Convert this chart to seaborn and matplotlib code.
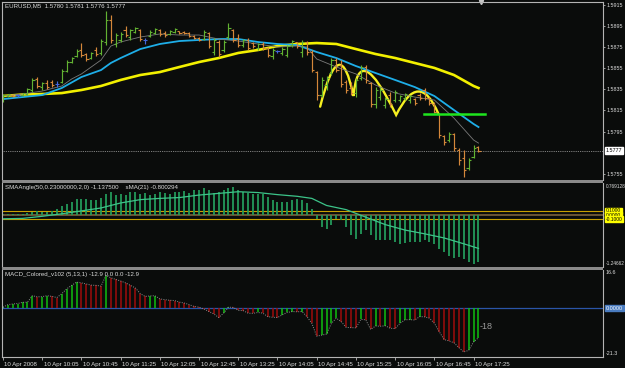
import matplotlib
matplotlib.use("Agg")
import matplotlib.pyplot as plt
import matplotlib.transforms as mtrans
from matplotlib.path import Path
from matplotlib.patches import PathPatch, Rectangle
import numpy as np
import pandas as pd
import seaborn as sns

plt.rcParams['font.family'] = ['Liberation Sans', 'DejaVu Sans']

# ---------------- data ----------------
symbol_title = "EURUSD,M5  1.5780 1.5781 1.5776 1.5777"
sma_title = "SMAAngle(50,0.23000000,2,0) -1.137500    sMA(21) -0.800294"
macd_title = "MACD_Colored_v102 (5,13,1) -12.9 0.0 0.0 -12.9"

open_ = [1.58249,1.58287,1.58296,1.58296,1.58296,1.58306,1.58344,1.58448,1.58372,1.58410,
         1.58420,1.58401,1.58420,1.58524,1.58609,1.58666,1.58723,1.58685,1.58647,1.58723,
         1.58695,1.58799,1.59007,1.58780,1.58818,1.58913,1.58846,1.58894,1.58913,1.58818,
         1.58856,1.58884,1.58913,1.58884,1.58875,1.58894,1.58903,1.58894,1.58884,1.58856,
         1.58837,1.58827,1.58884,1.58704,1.58799,1.58723,1.58846,1.58913,1.58837,1.58770,
         1.58818,1.58789,1.58742,1.58780,1.58742,1.58666,1.58714,1.58695,1.58676,1.58770,
         1.58799,1.58704,1.58799,1.58704,1.58514,1.58296,1.58391,1.58505,1.58628,1.58581,
         1.58420,1.58363,1.58315,1.58458,1.58562,1.58410,1.58211,1.58277,1.58202,1.58296,
         1.58249,1.58249,1.58268,1.58249,1.58258,1.58296,1.58344,1.58268,1.58211,1.58116,
         1.57908,1.57870,1.57927,1.57775,1.57699,1.57604,1.57708,1.5780]
high = [1.58306,1.58306,1.58296,1.58306,1.58315,1.58363,1.58458,1.58467,1.58420,1.58439,
        1.58439,1.58429,1.58543,1.58628,1.58657,1.58732,1.58789,1.58695,1.58704,1.58751,
        1.58827,1.59093,1.59055,1.58884,1.58894,1.58951,1.58922,1.58941,1.58922,1.58837,
        1.58913,1.58932,1.58922,1.58903,1.58913,1.58932,1.58903,1.58903,1.58894,1.58865,
        1.58846,1.58913,1.58894,1.58837,1.58818,1.58818,1.58979,1.58922,1.58875,1.58827,
        1.58837,1.58799,1.58789,1.58799,1.58751,1.58742,1.58723,1.58751,1.58770,1.58818,
        1.58799,1.58818,1.58808,1.58723,1.58524,1.58467,1.58477,1.58647,1.58647,1.58628,
        1.58439,1.58420,1.58458,1.58581,1.58581,1.58420,1.58372,1.58372,1.58277,1.58325,
        1.58344,1.58296,1.58315,1.58296,1.58268,1.58315,1.58363,1.58277,1.58230,1.58126,
        1.57917,1.57946,1.57936,1.57794,1.57775,1.57699,1.57822,1.5781]
low = [1.58230,1.58277,1.58277,1.58277,1.58287,1.58296,1.58325,1.58363,1.58344,1.58353,
       1.58372,1.58372,1.58410,1.58514,1.58600,1.58657,1.58657,1.58619,1.58638,1.58666,
       1.58676,1.58770,1.58789,1.58751,1.58799,1.58846,1.58818,1.58884,1.58808,1.58780,
       1.58846,1.58875,1.58856,1.58846,1.58865,1.58884,1.58875,1.58875,1.58846,1.58827,
       1.58808,1.58818,1.58742,1.58676,1.58657,1.58704,1.58827,1.58799,1.58751,1.58751,
       1.58723,1.58742,1.58723,1.58723,1.58657,1.58638,1.58695,1.58676,1.58657,1.58751,
       1.58742,1.58657,1.58676,1.58514,1.58249,1.58277,1.58344,1.58486,1.58514,1.58372,
       1.58315,1.58296,1.58277,1.58439,1.58410,1.58183,1.58173,1.58249,1.58173,1.58183,
       1.58230,1.58230,1.58249,1.58221,1.58202,1.58249,1.58249,1.58202,1.58126,1.57889,
       1.57822,1.57851,1.57765,1.57633,1.57519,1.57585,1.57699,1.5776]
close = [1.58296,1.58306,1.58287,1.58296,1.58315,1.58353,1.58439,1.58382,1.58410,1.58372,
         1.58391,1.58401,1.58524,1.58609,1.58647,1.58714,1.58676,1.58638,1.58695,1.58685,
         1.58808,1.59007,1.58818,1.58865,1.58875,1.58865,1.58913,1.58932,1.58827,1.58818,
         1.58894,1.58922,1.58875,1.58865,1.58903,1.58922,1.58884,1.58884,1.58856,1.58837,
         1.58818,1.58894,1.58761,1.58818,1.58685,1.58799,1.58932,1.58818,1.58770,1.58818,
         1.58742,1.58761,1.58780,1.58742,1.58676,1.58723,1.58714,1.58732,1.58761,1.58808,
         1.58761,1.58799,1.58704,1.58533,1.58296,1.58439,1.58458,1.58628,1.58533,1.58401,
         1.58344,1.58315,1.58439,1.58562,1.58439,1.58211,1.58344,1.58344,1.58258,1.58211,
         1.58325,1.58287,1.58306,1.58287,1.58221,1.58268,1.58268,1.58221,1.58135,1.57917,
         1.57851,1.57927,1.57794,1.57680,1.57585,1.57680,1.57794,1.5777]

# moving averages (read at sampled bars)
ma_fast_bar = [0,4,8,12,14,16,18,20,22,24,28,32,36,40,44,48,52,56,60,62,64,68,72,76,80,84,88,92,96,97]
ma_fast = [1.58287,1.58306,1.58334,1.58382,1.58448,1.58496,1.58562,1.58628,1.58760,1.58799,
           1.58846,1.58875,1.58865,1.58865,1.58827,1.58808,1.58780,1.58751,1.58761,1.58751,
           1.58638,1.58562,1.58496,1.58391,1.58315,1.58277,1.58249,1.58078,1.57870,1.57841]
ma_mid_bar = [0,4,8,12,16,20,22,24,28,32,36,40,44,48,52,56,60,64,68,72,76,80,84,88,92,96,97]
ma_mid = [1.58258,1.58277,1.58296,1.58363,1.58467,1.58533,1.58600,1.58647,1.58732,1.58780,
          1.58808,1.58818,1.58827,1.58827,1.58799,1.58780,1.58770,1.58704,1.58647,1.58571,
          1.58505,1.58439,1.58372,1.58287,1.58154,1.58022,1.57993]
ma_slow_bar = [0,4,8,12,16,20,24,28,32,36,40,44,48,52,56,60,64,68,72,76,80,84,88,92,96,97]
ma_slow = [1.58287,1.58301,1.58306,1.58315,1.58344,1.58382,1.58439,1.58486,1.58514,1.58562,
           1.58609,1.58647,1.58695,1.58723,1.58761,1.58780,1.58789,1.58780,1.58732,1.58685,
           1.58647,1.58600,1.58553,1.58486,1.58382,1.58363]

# hand drawn pattern (troughs and peaks) and neckline
pattern_bar = [64.7, 68.4, 71.5, 74.2, 80.2, 84.7, 88.8]
pattern_price = [1.58186, 1.58581, 1.58287, 1.58519, 1.58107, 1.58330, 1.58121]
neck_bar = [85.9, 98.4]
neck_price = 1.58120
last_price = 1.5777
price_ticks = [1.5915, 1.5895, 1.5875, 1.5855, 1.5835, 1.5815, 1.5795, 1.5755]

# SMAAngle histogram and its sMA(21)
sma_hist = [0.03,0.03,0.03,0.03,0.03,0.04,0.07,0.10,0.07,0.07,
            0.10,0.15,0.21,0.27,0.32,0.39,0.39,0.39,0.37,0.36,
            0.40,0.51,0.56,0.48,0.51,0.48,0.55,0.56,0.51,0.53,
            0.49,0.51,0.55,0.52,0.51,0.55,0.56,0.57,0.53,0.59,
            0.61,0.64,0.61,0.53,0.55,0.59,0.64,0.67,0.61,0.56,
            0.53,0.50,0.50,0.51,0.43,0.37,0.31,0.31,0.31,0.37,
            0.39,0.35,0.29,0.15,-0.09,-0.29,-0.33,-0.23,-0.09,-0.13,
            -0.29,-0.49,-0.57,-0.45,-0.37,-0.49,-0.61,-0.61,-0.59,-0.61,
            -0.65,-0.69,-0.67,-0.65,-0.65,-0.65,-0.61,-0.65,-0.69,-0.81,
            -0.89,-0.99,-1.03,-1.01,-1.05,-1.13,-1.17,-1.1375]
sma_line_bar = [0,4,8,12,16,20,24,28,32,36,40,44,48,52,56,60,63,66,70,74,78,82,86,90,94,97]
sma_line = [-0.09,-0.08,-0.03,0.03,0.10,0.17,0.29,0.37,0.40,0.42,0.48,0.52,0.56,0.54,0.49,0.45,
            0.40,0.23,0.13,-0.05,-0.23,-0.36,-0.45,-0.55,-0.69,-0.800294]
sma_levels = [0.1, 0.0, -0.1]
sma_range = (-1.24662, 0.769128)

# MACD histogram
macd = [0.4,1.5,1.8,2.0,2.5,2.6,5.4,4.9,5.0,5.4,
        5.1,4.6,6.3,8.4,9.9,11.3,11.0,10.5,10.0,9.9,
        9.6,14.2,13.2,12.5,11.8,11.0,9.9,8.8,6.3,5.1,
        5.3,5.4,4.0,3.7,3.4,3.3,2.6,2.2,1.5,0.7,
        0.4,-0.4,-1.5,-2.5,-4.1,-2.2,0.4,0.3,-1.0,-1.1,
        -2.2,-2.3,-1.9,-2.2,-3.7,-4.0,-4.1,-2.9,-1.9,-1.5,
        -1.6,-1.5,-3.7,-6.6,-12.2,-11.8,-11.3,-6.6,-4.4,-5.9,
        -8.4,-8.5,-8.6,-4.9,-5.1,-9.3,-7.8,-7.9,-7.7,-8.8,
        -8.9,-6.6,-5.1,-5.0,-5.2,-3.7,-3.8,-4.4,-6.6,-10.3,
        -13.7,-14.3,-15.1,-17.2,-19.1,-18.4,-14.7,-12.9]
macd_dir = list("gggggggrgg" "rrggggrrrr" "rgrrrrrrrr" "ggrrrrrrrr" "rrrrrggrrr"
                "rrgrrrrggg" "rgrrrggggr" "rrrgrrgrgr" "rgggrgrrrr" "rrrrrggg")
macd_range = (-21.3, 16.6)
macd_note = "-18"

time_tick_bars = [0, 8, 16, 24, 32, 40, 48, 56, 64, 72, 80, 88, 96]
time_labels = ["10 Apr 2008", "10 Apr 10:05", "10 Apr 10:45", "10 Apr 11:25", "10 Apr 12:05",
               "10 Apr 12:45", "10 Apr 13:25", "10 Apr 14:05", "10 Apr 14:45", "10 Apr 15:25",
               "10 Apr 16:05", "10 Apr 16:45", "10 Apr 17:25"]

# ---------------- styling ----------------
BG = '#0a0c0b'
FRAME = '#b4b4b4'
TXT = '#dcdcdc'
FS = 4.4
FSR = 3.9
W, H = 625, 368

bars = pd.DataFrame({'bar': np.arange(len(open_)), 'open': open_, 'high': high,
                     'low': low, 'close': close})
bars['color'] = np.where(bars.close > bars.open, '#62b232',
                         np.where(bars.close < bars.open, '#d4873a', '#4466dd'))

fig = plt.figure(figsize=(W / 100, H / 100), dpi=100, facecolor=BG)


def rect(l, t, r, b):
    return [l / W, 1 - b / H, (r - l) / W, (b - t) / H]


ax1 = fig.add_axes(rect(2, 2, 603, 180))
ax2 = fig.add_axes(rect(2, 183, 603, 267), sharex=ax1)
ax3 = fig.add_axes(rect(2, 270, 603, 357), sharex=ax1)

for ax in (ax1, ax2, ax3):
    ax.set_facecolor(BG)
    for s in ax.spines.values():
        s.set_color(FRAME)
        s.set_linewidth(0.8)
    ax.spines['bottom'].set_visible(False)
    ax.spines['top'].set_visible(False)
    ax.tick_params(axis='x', bottom=False, labelbottom=False)
    ax.tick_params(axis='y', left=False, labelleft=False, right=True, labelright=True,
                   direction='out', length=1.5, width=0.6, color=FRAME,
                   labelcolor=TXT, labelsize=FSR, pad=1.0)
ax1.spines['top'].set_visible(True)
ax3.spines['bottom'].set_visible(True)
ax1.set_xlim(-0.2, 122.4)

# separators between panes
for t, b in [(180, 183), (267, 270)]:
    fig.add_artist(Rectangle((2 / W, 1 - b / H), 601 / W, (b - t) / H,
                             transform=fig.transFigure, color='#8a8a8a', lw=0))

# ---------------- main price pane ----------------
ax1.set_ylim(1.57491, 1.59178)
ax1.axhline(last_price, color='#a8a8a8', lw=0.6, ls=(0, (1, 1.2)))
sns.lineplot(x=ma_slow_bar, y=ma_slow, ax=ax1, color='#f2f000', lw=1.9, legend=False)
sns.lineplot(x=ma_mid_bar, y=ma_mid, ax=ax1, color='#1eaee8', lw=1.3, legend=False)
sns.lineplot(x=ma_fast_bar, y=ma_fast, ax=ax1, color='#7a7a7a', lw=0.6, legend=False)
ax1.vlines(bars.bar, bars.low, bars.high, colors=bars.color, lw=0.85)
ax1.hlines(bars.open, bars.bar - 0.45, bars.bar, colors=bars.color, lw=0.8)
ax1.hlines(bars.close, bars.bar, bars.bar + 0.45, colors=bars.color, lw=0.8)

# rounded-peak pattern drawn with quadratic curves
verts = [(pattern_bar[0], pattern_price[0])]
codes = [Path.MOVETO]
for k in range(0, len(pattern_bar) - 2, 2):
    ax_, ay = pattern_bar[k], pattern_price[k]
    px, py = pattern_bar[k + 1], pattern_price[k + 1]
    bx, by = pattern_bar[k + 2], pattern_price[k + 2]
    cx, cy = 2 * px - (ax_ + bx) / 2, 2 * py - (ay + by) / 2
    verts += [(cx, cy), (bx, by)]
    codes += [Path.CURVE3, Path.CURVE3]
ax1.add_patch(PathPatch(Path(verts, codes), fc='none', ec='#f6f020', lw=1.7,
                        capstyle='round', joinstyle='miter'))
sns.lineplot(x=neck_bar, y=[neck_price, neck_price], ax=ax1, color='#1ee61e', lw=1.8,
             legend=False)

ax1.set_yticks(price_ticks)
ax1.set_yticklabels([f"{v:.4f}" for v in price_ticks])
btrans = mtrans.blended_transform_factory(ax1.transAxes, ax1.transData)
ax1.text(1.005, last_price, f"{last_price:.4f}", transform=btrans, fontsize=FSR,
         color='black', va='center', ha='left',
         bbox=dict(boxstyle='square,pad=0.15', fc='white', ec='white'))
ax1.text(0.005, 0.99, symbol_title, transform=ax1.transAxes, fontsize=FS, color=TXT,
         va='top', ha='left')
ax1.plot([97.6], [1.0], transform=mtrans.blended_transform_factory(ax1.transData, ax1.transAxes),
         marker='v', ms=3, color='#c8c8c8', clip_on=False, ls='none')

# ---------------- SMAAngle pane ----------------
ax2.set_ylim(*sma_range)
ax2.axhline(sma_levels[1], color='#6a5636', lw=1.4)
ax2.axhline(sma_levels[0], color='#c8a000', lw=0.8)
ax2.axhline(sma_levels[2], color='#c8a000', lw=0.8)
ax2.vlines(bars.bar, 0, sma_hist, colors='#23995a', lw=1.3)
sns.lineplot(x=sma_line_bar, y=sma_line, ax=ax2, color='#3cc489', lw=0.9, legend=False)
ax2.set_yticks([])
ax2.tick_params(axis='y', right=False)
ax2.text(0.005, 0.95, sma_title, transform=ax2.transAxes, fontsize=FS, color=TXT,
         va='center', ha='left')
ax2.text(1.004, 0.985, f"{sma_range[1]:.6f}", transform=ax2.transAxes, fontsize=3.4,
         color=TXT, va='top', ha='left')
ax2.text(1.004, 0.01, f"{sma_range[0]:.5f}", transform=ax2.transAxes, fontsize=3.4,
         color=TXT, va='bottom', ha='left')
bt2 = mtrans.blended_transform_factory(ax2.transAxes, ax2.transData)
for lv in sma_levels:
    ax2.text(1.005, lv, f"{lv:.4f}", transform=bt2, fontsize=3.5, color='black',
             va='center', ha='left',
             bbox=dict(boxstyle='square,pad=0.12', fc='#ffff00', ec='#ffff00'))

# ---------------- MACD pane ----------------
ax3.set_ylim(*macd_range)
ax3.axhline(0, color='#2a55a8', lw=0.9)
mcols = ['#10c010' if d == 'g' else '#a00c0c' for d in macd_dir]
ax3.vlines(bars.bar, 0, macd, colors=mcols, lw=1.1)
sns.lineplot(x=bars.bar, y=macd, ax=ax3, color='#8c8c8c', lw=0.7,
             linestyle=(0, (1, 1.4)), legend=False)
ax3.set_yticks([])
ax3.tick_params(axis='y', right=False)
ax3.text(0.005, 0.945, macd_title, transform=ax3.transAxes, fontsize=FS, color=TXT,
         va='center', ha='left')
ax3.text(1.005, 0.995, f"{macd_range[1]:.1f}", transform=ax3.transAxes, fontsize=FSR,
         color=TXT, va='top', ha='left')
ax3.text(1.005, 0.01, f"{macd_range[0]:.1f}", transform=ax3.transAxes, fontsize=FSR,
         color=TXT, va='bottom', ha='left')
bt3 = mtrans.blended_transform_factory(ax3.transAxes, ax3.transData)
ax3.text(1.005, 0, "0.0000", transform=bt3, fontsize=FSR, color='white', va='center',
         ha='left', bbox=dict(boxstyle='square,pad=0.15', fc='#4a7cc0', ec='#4a7cc0'))
ax3.text(97.3, -8.2, macd_note, fontsize=6.5, color='#9a9a9a', va='center', ha='left')

ax3.set_xticks(time_tick_bars)
ax3.set_xticklabels(time_labels)
ax3.tick_params(axis='x', bottom=True, labelbottom=True, direction='out', length=2.5,
                width=0.6, color=FRAME, labelcolor=TXT, labelsize=FS, pad=0.8)
off = mtrans.ScaledTranslation(1.5 / 100, 0, fig.dpi_scale_trans)
for lab in ax3.get_xticklabels():
    lab.set_horizontalalignment('left')
    lab.set_transform(lab.get_transform() + off)

fig.savefig("out.png", dpi=100, facecolor=BG)
